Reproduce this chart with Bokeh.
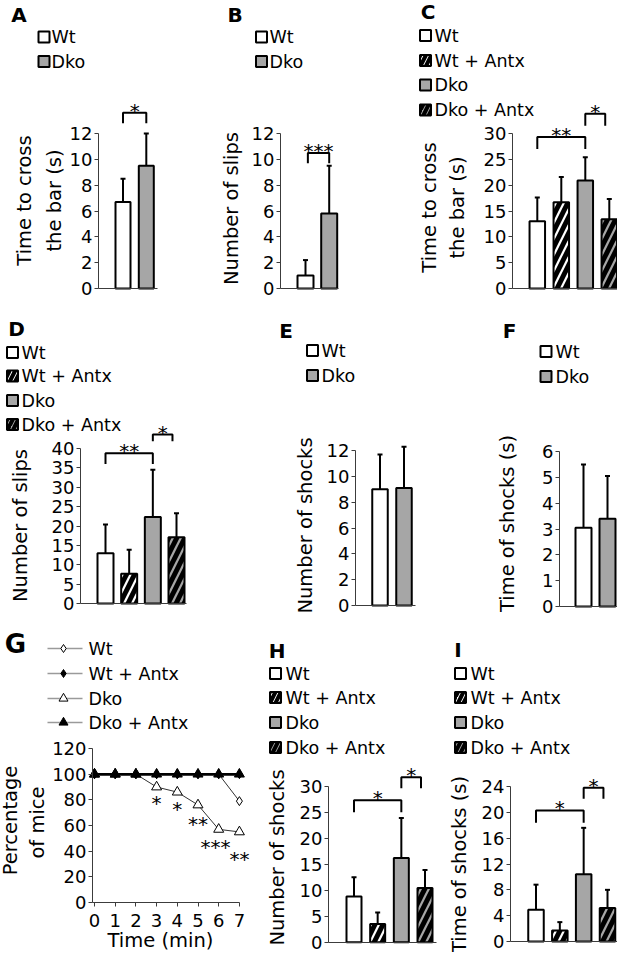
import math
from bokeh.plotting import figure
from bokeh.models import Range1d, FixedTicker, ColumnDataSource, Whisker, TeeHead
from bokeh.layouts import row, column
from bokeh.embed import file_html
from bokeh.resources import INLINE
from bokeh.core.properties import value

# ------------------------------------------------------------------ data
groups_2 = ["Wt", "Dko"]
groups_4 = ["Wt", "Wt + Antx", "Dko", "Dko + Antx"]

cross_time_A = [6.7, 9.5]
cross_err_A = [1.8, 2.5]
slips_B = [1.0, 5.8]
slips_err_B = [1.2, 3.7]
cross_time_C = [13.0, 16.7, 20.9, 13.4]
cross_err_C = [4.6, 4.9, 4.5, 3.9]
slips_D = [13.0, 7.7, 22.3, 17.1]
slips_err_D = [7.4, 6.2, 12.2, 6.2]
shocks_E = [9.0, 9.1]
shocks_err_E = [2.7, 3.2]
shock_time_F = [3.05, 3.4]
shock_time_err_F = [2.45, 1.65]
minutes_G = [0, 1, 2, 3, 4, 5, 6, 7]
pct_wt_G = [100, 100, 100, 100, 100, 100, 100, 79]
pct_wt_antx_G = [100, 100, 100, 100, 100, 100, 100, 100]
pct_dko_G = [100, 100, 100, 90, 86, 76, 57, 55]
pct_dko_antx_G = [100, 100, 100, 100, 100, 100, 100, 100]
shocks_H = [8.8, 3.5, 16.2, 10.4]
shocks_err_H = [3.7, 2.2, 7.7, 3.5]
shock_time_I = [4.9, 1.7, 10.4, 5.2]
shock_time_err_I = [3.9, 1.3, 7.2, 2.8]

# significance brackets: (left end, right end, bracket height, leg end, label)
sig_A = [(1, 2, 13.6, 12.8, "*")]
sig_B = [(1.1, 2, 10.5, 9.7, "***")]
sig_C = [(1, 3, 29.3, 27.0, "**"), (3, 3.83, 33.8, 31.5, "*")]
sig_D = [(1, 3, 38.8, 36.0, "**"), (3, 3.83, 43.6, 41.9, "*")]
sig_H = [(1, 3, 27.3, 25.0, "*"), (3, 3.83, 31.7, 29.6, "*")]
sig_I = [(1, 3, 20.3, 18.4, "*"), (3, 3.83, 23.8, 22.1, "*")]
sig_G_min = [3, 4, 5, 5.85, 7]
sig_G_pct = [81, 76, 64, 46, 37]
sig_G_lab = ["*", "*", "**", "***", "**"]

# ------------------------------------------------------------------ style
FONT = "DejaVu Sans"
GRAY = "#a6a6a6"
AXIS = "#3c3c3c"
STYLE = {"Wt": ("white", " "), "Wt + Antx": ("white", "/"),
         "Dko": (GRAY, " "), "Dko + Antx": (GRAY, "/")}
TICK_PX = "18px"
LEG_PX = 17.5
TITLE_PX = 19.5
STAR_PX = 20


class Panel:
    """One sub-chart; geometry given in page pixels."""

    def __init__(self, box, xcal, ycal):
        self.L, self.R, self.T, self.B = box
        (d1, r1), (d2, r2) = xcal
        self.xd1, self.xr1, self.xa = d1, r1, (d2 - d1) / (r2 - r1)
        (v1, s1), (v2, s2) = ycal
        self.yv1, self.ys1, self.ya = v1, s1, (v2 - v1) / (s2 - s1)
        p = figure(width=self.R - self.L, height=self.B - self.T,
                   x_range=Range1d(self.dx(self.L), self.dx(self.R)),
                   y_range=Range1d(self.dy(self.B), self.dy(self.T)),
                   output_backend="svg", toolbar_location=None, min_border=0)
        p.outline_line_color = None
        p.grid.visible = False
        p.background_fill_color = "white"
        p.border_fill_color = "white"
        self.p = p

    def dx(self, rx):
        return self.xd1 + (rx - self.xr1) * self.xa

    def dy(self, ry):
        return self.yv1 + (ry - self.ys1) * self.ya

    def px(self):
        """data units per pixel (vertical)"""
        return abs(self.ya)


def style_axis(ax, ticks, standoff=2):
    ax.ticker = FixedTicker(ticks=ticks)
    ax.axis_line_color = AXIS
    ax.axis_line_width = 1
    ax.major_tick_line_color = AXIS
    ax.major_tick_out = 4
    ax.major_tick_in = 0
    ax.minor_tick_out = 0
    ax.minor_tick_in = 0
    ax.major_label_text_font = FONT
    ax.major_label_text_font_size = TICK_PX
    ax.major_label_text_color = "black"
    ax.major_label_standoff = standoff


def axes(pan, axis_rx, x_end, ymax, ystep, xticks=None):
    p = pan.p
    ya = p.yaxis[0]
    style_axis(ya, list(range(0, ymax + 1, ystep)))
    ya.fixed_location = pan.dx(axis_rx)
    ya.bounds = (0, ymax)
    xa = p.xaxis[0]
    style_axis(xa, xticks if xticks else [], standoff=7)
    xa.fixed_location = 0
    xa.bounds = (pan.dx(axis_rx), x_end)


def txt(pan, rx, ry, s, size, align="left", angle=0.0, bold=False):
    pan.p.text(x=[pan.dx(rx)], y=[pan.dy(ry)], text=[s], text_font=value(FONT),
               text_font_size=value(f"{size}px"), text_align=align,
               text_baseline="middle", angle=angle, text_color="black",
               text_font_style="bold" if bold else "normal")


def stars(p, xs, centres, labels, px):
    # asterisks sit in the upper part of the em box: anchor 4 px below centre
    p.text(x=xs, y=[c - 4 * px for c in centres], text=labels,
           text_font=value(FONT), text_font_size=value(f"{STAR_PX}px"),
           text_align="center", text_baseline="middle", text_color="black")


def letter(pan, rx, ry, s, size=20):
    txt(pan, rx, ry, s, size, align="center", bold=True)


def ytitle(pan, rx, ry, s):
    txt(pan, rx, ry, s, TITLE_PX, align="center", angle=math.pi / 2)


def box_legend(pan, box_rx, text_rx, rows_ry, groups):
    for g, ry in zip(groups, rows_ry):
        fill, hatch = STYLE[g]
        pan.p.rect(x=[pan.dx(box_rx)], y=[pan.dy(ry)], width=11, height=11,
                   width_units="screen", height_units="screen",
                   fill_color=fill, line_color="black", line_width=2,
                   hatch_pattern=hatch, hatch_color="black", hatch_weight=4,
                   hatch_scale=11)
        txt(pan, text_rx, ry, g, LEG_PX)


def bar_panel(pan, groups, vals, errs, bar_px, sigs):
    p = pan.p
    xs = [i + 1 for i in range(len(groups))]
    src = ColumnDataSource(dict(
        x=xs, top=vals, upper=[v + e for v, e in zip(vals, errs)],
        fill=[STYLE[g][0] for g in groups], hatch=[STYLE[g][1] for g in groups]))
    p.vbar(x="x", top="top", bottom=0, width=bar_px * abs(pan.xa), source=src,
           fill_color="fill", line_color="black", line_width=2,
           hatch_pattern="hatch", hatch_color="black", hatch_weight=5,
           hatch_scale=16)
    p.add_layout(Whisker(source=src, base="x", lower="top", upper="upper",
                         dimension="height", line_color="black", line_width=2,
                         lower_head=None,
                         upper_head=TeeHead(size=5, line_width=2, line_color="black"),
                         level="glyph"))
    for xl, xr, top, leg, lab in sigs:
        p.line(x=[xl, xl, xr, xr], y=[leg, top, top, leg], line_color="black",
               line_width=2)
    if sigs:
        # star centre about 6 px above the bracket bar
        stars(p, [(s[0] + s[1]) / 2 for s in sigs],
              [s[2] + 6 * pan.px() for s in sigs], [s[4] for s in sigs], pan.px())


# ------------------------------------------------------------------ panels
ROW1, ROW2, ROW3 = (0, 305), (305, 620), (620, 952)

A = Panel((0, 200) + ROW1, ((1, 122.5), (2, 145.8)), ((0, 288), (12, 133)))
axes(A, 98, A.dx(157), 12, 2)
bar_panel(A, groups_2, cross_time_A, cross_err_A, 15, sig_A)
letter(A, 18.5, 14, "A")
box_legend(A, 43.5, 51, [36.5, 61], groups_2)
ytitle(A, 24, 200, "Time to cross")
ytitle(A, 54, 200, "the bar (s)")

B = Panel((200, 400) + ROW1, ((1, 305), (2, 328.7)), ((0, 288), (12, 133)))
axes(B, 280, B.dx(338), 12, 2)
bar_panel(B, groups_2, slips_B, slips_err_B, 16, sig_B)
letter(B, 234.5, 14, "B")
box_legend(B, 261, 269, [36.5, 61], groups_2)
ytitle(B, 231, 208, "Number of slips")

C = Panel((400, 617) + ROW1, ((1, 536.8), (4, 608.8)), ((0, 288), (30, 133)))
axes(C, 512, C.dx(617), 30, 5)
bar_panel(C, groups_4, cross_time_C, cross_err_C, 15.5, sig_C)
letter(C, 427.5, 11.5, "C")
box_legend(C, 425, 434, [35, 60, 84.5, 109.5], groups_4)
ytitle(C, 428.5, 207, "Time to cross")
ytitle(C, 456.5, 207, "the bar (s)")

D = Panel((0, 250) + ROW2, ((1, 105), (4, 176)), ((0, 603), (40, 448)))
axes(D, 80, D.dx(186), 40, 5)
bar_panel(D, groups_4, slips_D, slips_err_D, 16, sig_D)
letter(D, 16, 328, "D")
box_legend(D, 12, 21, [352, 375.5, 400, 424], groups_4)
ytitle(D, 20, 525, "Number of slips")

E = Panel((250, 470) + ROW2, ((1, 379.5), (2, 403.5)), ((0, 605), (12, 450)))
axes(E, 355, E.dx(415), 12, 2)
bar_panel(E, groups_2, shocks_E, shocks_err_E, 15.5, [])
letter(E, 285.5, 330, "E")
box_legend(E, 312, 321, [350, 375], groups_2)
ytitle(E, 305, 525, "Number of shocks")

F = Panel((470, 617) + ROW2, ((1, 583), (2, 607)), ((0, 606), (6, 451)))
axes(F, 559, F.dx(617), 6, 1)
bar_panel(F, groups_2, shock_time_F, shock_time_err_F, 16, [])
letter(F, 509, 330, "F")
box_legend(F, 545.5, 555, [351, 376], groups_2)
ytitle(F, 506.7, 523, "Time of shocks (s)")

G = Panel((0, 258) + ROW3, ((0, 94), (7, 238.9)), ((0, 902), (120, 748)))
axes(G, 92, 7.0, 120, 20, xticks=minutes_G)
g_series = [
    ("Wt", pct_wt_G, "diamond", "white", "#333333", 1, 9),
    ("Wt + Antx", pct_wt_antx_G, "diamond", "black", "black", 2.5, 9),
    ("Dko", pct_dko_G, "triangle", "white", "#333333", 1, 10),
    ("Dko + Antx", pct_dko_antx_G, "triangle", "black", "black", 2.5, 10),
]
for name, ys, marker, fill, lcol, lw, size in g_series:
    G.p.line(x=minutes_G, y=ys, line_color=lcol, line_width=lw)
for name, ys, marker, fill, lcol, lw, size in g_series:
    G.p.scatter(x=minutes_G, y=ys, marker=marker, size=size, fill_color=fill,
                line_color="black", line_width=1)
for (name, ys, marker, fill, lcol, lw, size), ry in zip(g_series, [648, 673, 698, 722]):
    G.p.line(x=[G.dx(47), G.dx(82)], y=[G.dy(ry), G.dy(ry)], line_color="#9a9a9a",
             line_width=1.5)
    G.p.scatter(x=[G.dx(63)], y=[G.dy(ry)], marker=marker, size=size - 1,
                fill_color=fill, line_color="black", line_width=1)
    txt(G, 88, ry, name, LEG_PX)
stars(G.p, sig_G_min, sig_G_pct, sig_G_lab, G.px())
letter(G, 15, 643, "G", size=26)
ytitle(G, 10, 820, "Percentage")
ytitle(G, 37, 822, "of mice")
txt(G, 160, 940, "Time (min)", TITLE_PX, align="center")

H = Panel((258, 446) + ROW3, ((1, 353.5), (4, 424.5)), ((0, 941.7), (30, 785.7)))
axes(H, 328, H.dx(436), 30, 5)
bar_panel(H, groups_4, shocks_H, shocks_err_H, 15, sig_H)
letter(H, 276.5, 650, "H")
box_legend(H, 275, 285, [673, 697, 722, 747], groups_4)
ytitle(H, 277, 857, "Number of shocks")

I = Panel((446, 617) + ROW3, ((1, 535.5), (4, 607)), ((0, 941), (24, 786)))
axes(I, 510, I.dx(617), 24, 4)
bar_panel(I, groups_4, shock_time_I, shock_time_err_I, 15.5, sig_I)
letter(I, 457.5, 649, "I")
box_legend(I, 460, 470, [673, 697, 722, 747], groups_4)
ytitle(I, 459, 864, "Time of shocks (s)")

layout = column(row(A.p, B.p, C.p, spacing=0),
                row(D.p, E.p, F.p, spacing=0),
                row(G.p, H.p, I.p, spacing=0), spacing=0)

open("out.html", "w").write(file_html(layout, INLINE))
